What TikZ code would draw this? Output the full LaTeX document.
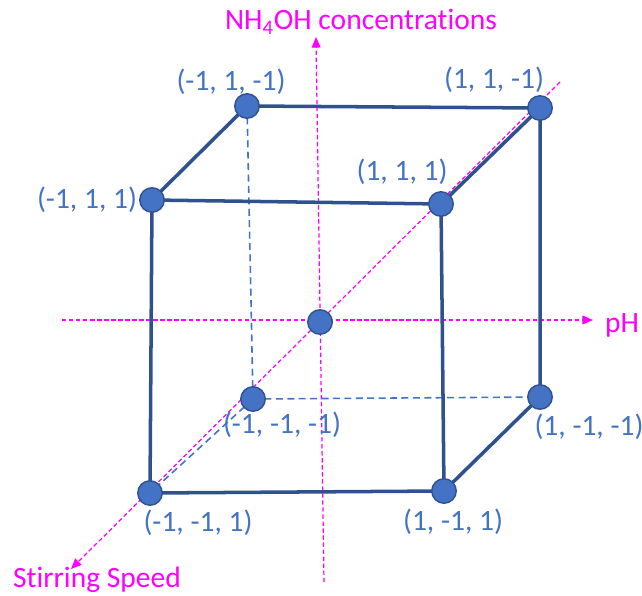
\documentclass[tikz,border=0pt]{standalone}
\usepackage{fontspec}
\setmainfont[Ligatures=NoCommon]{Carlito}
\usetikzlibrary{arrows.meta, positioning}
\definecolor{EdgeBlue}{HTML}{2F528F}
\definecolor{DotBlue}{HTML}{4472C4}
\definecolor{AxisMagenta}{HTML}{FF00FF}
\begin{document}
\begin{tikzpicture}[
  x=0.02cm, y=-0.02cm,
  dot/.style={circle, fill=DotBlue, draw=EdgeBlue, line width=0.8pt,
    minimum size=0.49cm, inner sep=0pt},
  coord/.style={text=DotBlue, font=\fontsize{16.8}{20}\selectfont, inner sep=1pt},
  axislabel/.style={text=AxisMagenta, font=\fontsize{16.8}{20}\selectfont, inner sep=1pt},
  edge/.style={line width=2pt, color=EdgeBlue},
  hidden/.style={line width=0.9pt, color=DotBlue, dash pattern=on 4pt off 2.5pt},
  axis/.style={line width=0.7pt, color=AxisMagenta, dash pattern=on 2.5pt off 1.5pt,
    -{Triangle[length=6pt, width=5pt]}}
]
\useasboundingbox (0,0) rectangle (642,595);

% Axis ends
\coordinate (phstart) at (62,320);
\coordinate (phend) at (593,320);
\coordinate (nhstart) at (324,582);
\coordinate (nhend) at (316,37);
\coordinate (ssstart) at (560,82);
\coordinate (ssend) at (71,569);

% Axes
\draw[axis] (phstart) -- (phend);
\draw[axis] (nhstart) -- (nhend);
\draw[axis] (ssstart) -- (ssend);

\node[axislabel] (ph) at (622,325) {pH};
\node[axislabel] (nh) at (361,22) {NH\textsubscript{4}OH concentrations};
\node[axislabel] (ss) at (97,580) {Stirring Speed};

% Cube corners
\coordinate (ftl) at (152,200);
\coordinate (ftr) at (441,204);
\coordinate (fbl) at (150,493);
\coordinate (fbr) at (444,491);
\coordinate (btl) at (247,106);
\coordinate (btr) at (540,108);
\coordinate (bbl) at (253,399);
\coordinate (bbr) at (540,397);
\coordinate (ctr) at (320,322);

% Hidden edges
\draw[hidden] (btl) -- (bbl);
\draw[hidden] (bbl) -- (bbr);
\draw[hidden] (bbl) -- (fbl);

% Visible edges
\draw[edge] (ftl) -- (ftr) -- (fbr) -- (fbl) -- cycle;
\draw[edge] (ftl) -- (btl) -- (btr) -- (ftr);
\draw[edge] (btr) -- (bbr) -- (fbr);

% Design points
\foreach \p in {ftl, ftr, fbl, fbr, btl, btr, bbl, bbr, ctr}
  \node[dot] (dot\p) at (\p) {};

% Labels
\node[coord] (lbtl) at (231,82) {(-1, 1, -1)};
\node[coord] (lbtr) at (494,80) {(1, 1, -1)};
\node[coord] (lftr) at (402,172) {(1, 1, 1)};
\node[coord, left=0pt of dotftl] (lftl) {(-1, 1, 1)};
\node[coord] (lbbl) at (282,425) {(-1, -1, -1)};
\node[coord] (lbbr) at (589,427) {(1, -1, -1)};
\node[coord] (lfbl) at (198,523) {(-1, -1, 1)};
\node[coord] (lfbr) at (453,522) {(1, -1, 1)};

\end{tikzpicture}
\end{document}
